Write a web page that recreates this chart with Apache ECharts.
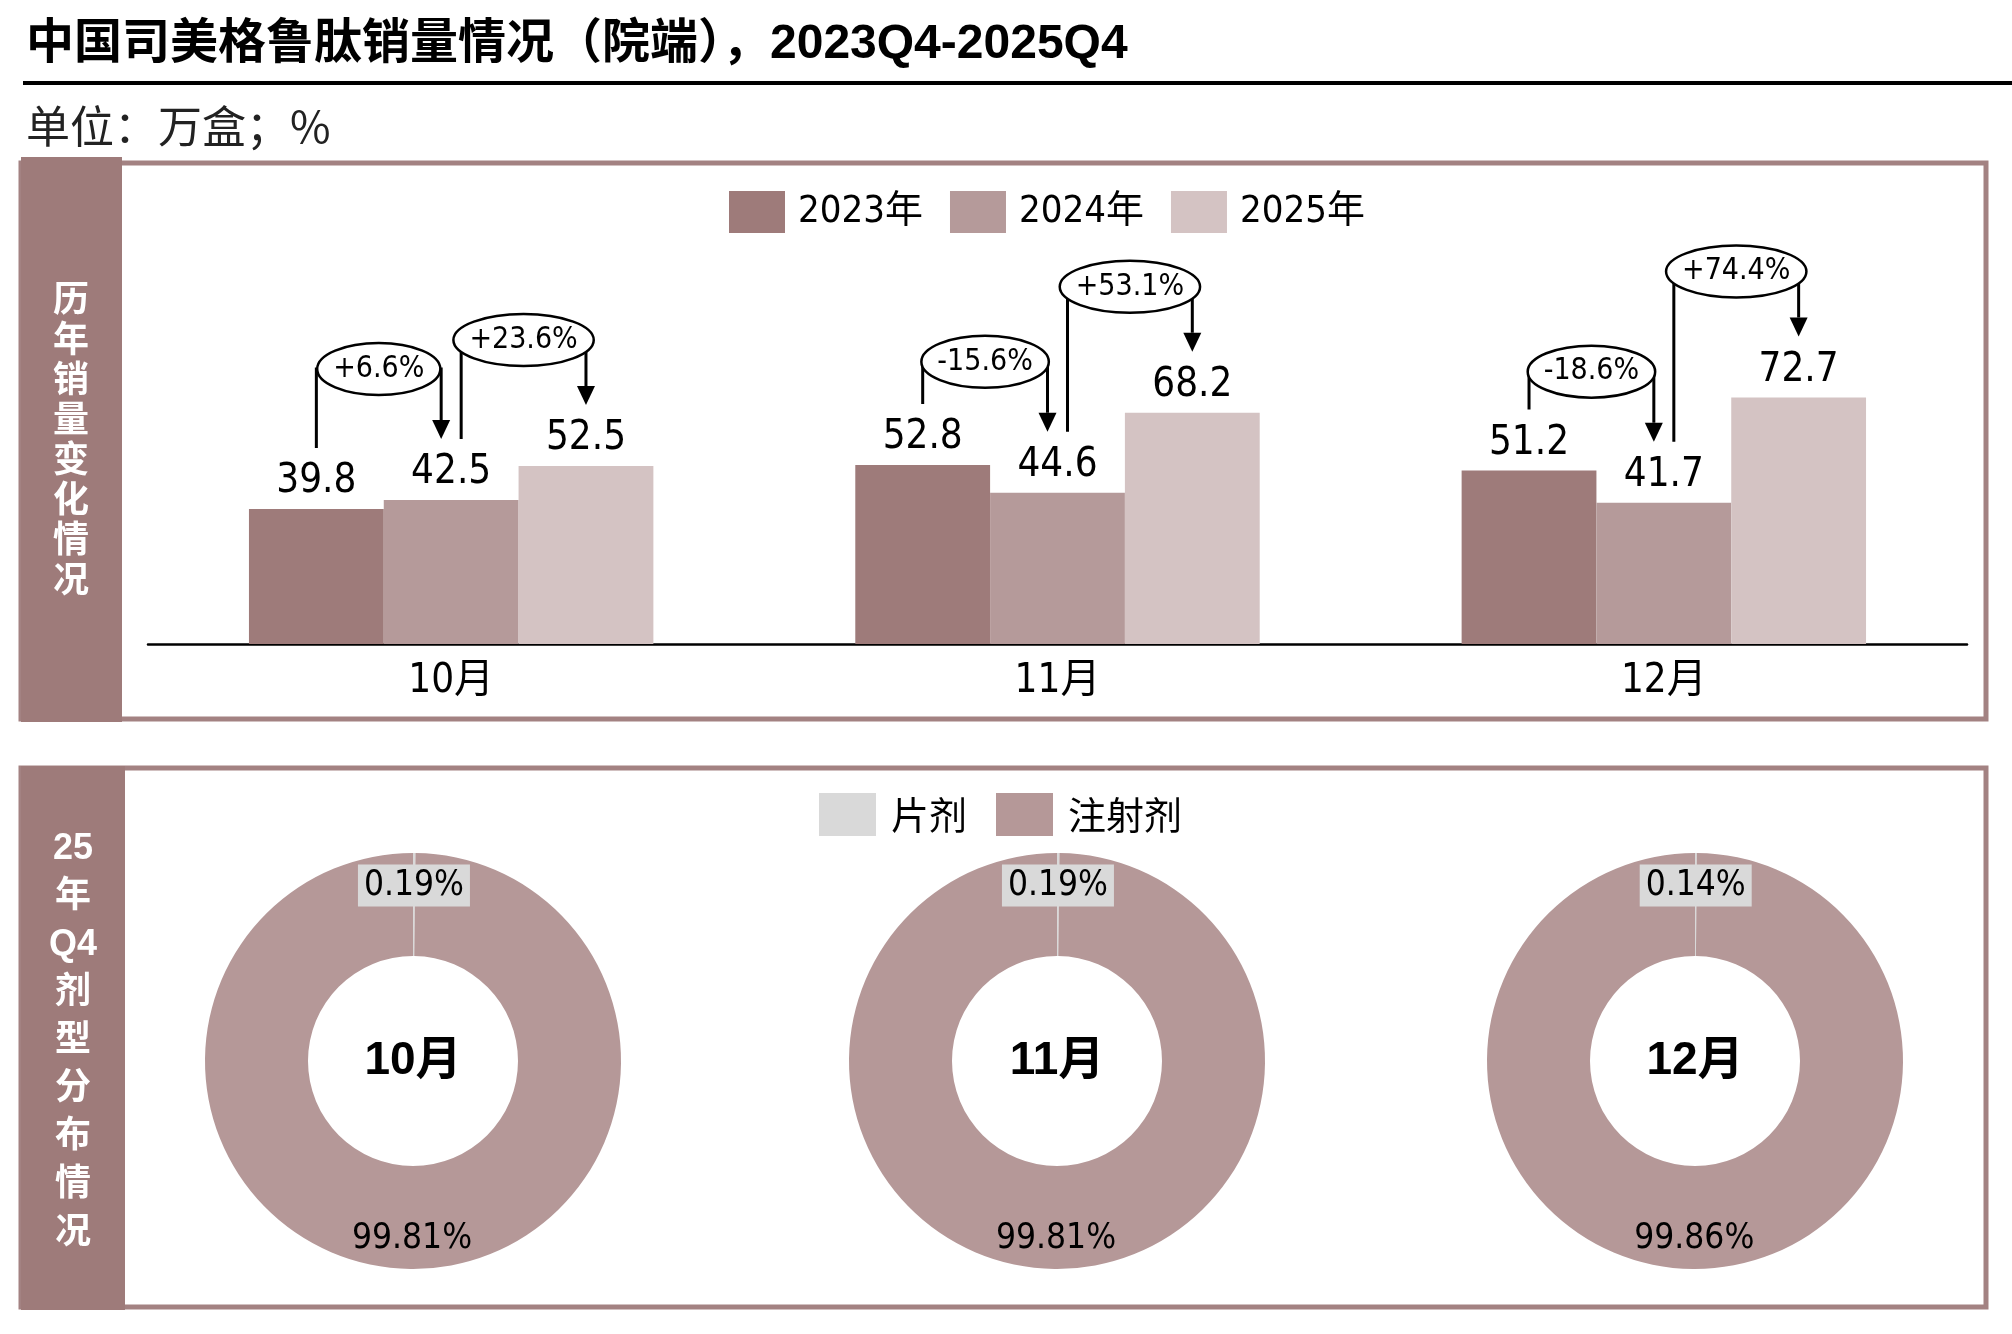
<!DOCTYPE html>
<html>
<head>
<meta charset="utf-8">
<title>中国司美格鲁肽销量情况（院端），2023Q4-2025Q4</title>
<script src="https://cdn.jsdelivr.net/npm/echarts@6/dist/echarts.min.js"></script>
<style>
html, body { margin: 0; padding: 0; background: #fff; }
#main { width: 2012px; height: 1334px; }
</style>
</head>
<body>
<div id="main"></div>
<script>
// 数据
var months = ['10月', '11月', '12月'];
var years = ['2023年', '2024年', '2025年'];
var sales2023 = [39.8, 52.8, 51.2];
var sales2024 = [42.5, 44.6, 41.7];
var sales2025 = [52.5, 68.2, 72.7];
var yoy2024 = ['+6.6%', '-15.6%', '-18.6%'];
var yoy2025 = ['+23.6%', '+53.1%', '+74.4%'];
var forms = ['片剂', '注射剂'];
var tabletShare = [0.19, 0.19, 0.14];
var injectionShare = [99.81, 99.81, 99.86];

var barColors = ['#9e7b7a', '#b59a9a', '#d4c3c3'];
var NARROW = '"Liberation Sans Narrow", "DejaVu Sans Condensed", "Noto Sans CJK SC", sans-serif';
var CJK = '"Noto Sans CJK SC", sans-serif';
var ANN_FONT = '30px ' + NARROW;
var pieCx = [413, 1057, 1695];
var pieCy = 1061;

var measureCtx = document.createElement('canvas').getContext('2d');
function measure(text, font) {
	measureCtx.font = font;
	return measureCtx.measureText(text).width;
}

// 同比括号 + 椭圆标注
function bracket(x1, y1, x2, y2, yTop, text) {
	var head = 19, half = 9;
	var rx = measure(text, ANN_FONT) / 2 + 16;
	var mx = (x1 + x2) / 2;
	return [ {
		type : 'polyline',
		shape : { points : [ [ x1, y1 ], [ x1, yTop ], [ x2, yTop ], [ x2, y2 - head ] ] },
		style : { stroke : '#000', lineWidth : 3, fill : 'none' }
	}, {
		type : 'polygon',
		shape : { points : [ [ x2 - half, y2 - head ], [ x2 + half, y2 - head ], [ x2, y2 ] ] },
		style : { fill : '#000' }
	}, {
		type : 'ellipse',
		shape : { cx : mx, cy : yTop, rx : rx, ry : 26 },
		style : { fill : '#fff', stroke : '#000', lineWidth : 2.5 }
	}, {
		type : 'text',
		x : mx,
		y : yTop,
		style : { text : text, fill : '#000', font : ANN_FONT, align : 'center', verticalAlign : 'middle' }
	} ];
}

function barSeries(name, data, color) {
	return {
		name : name,
		type : 'bar',
		data : data,
		barGap : '0%',
		barCategoryGap : '33.3%',
		itemStyle : { color : color },
		label : {
			show : true,
			position : 'top',
			distance : 7,
			color : '#000',
			fontSize : 40,
			fontFamily : NARROW
		},
		silent : true
	};
}

var series = [ barSeries(years[0], sales2023, barColors[0]),
		barSeries(years[1], sales2024, barColors[1]),
		barSeries(years[2], sales2025, barColors[2]) ];

series.push({
	type : 'custom',
	data : months.map(function(m, i) { return [ i, 0 ]; }),
	encode : { x : 0, y : 1 },
	clip : false,
	silent : true,
	z : 10,
	renderItem : function(params, api) {
		var i = api.value(0);
		var band = api.size([ 1, 0 ])[0];
		var bw = band * (1 - 0.333) / 3;
		var cx = api.coord([ i, 0 ])[0];
		var xs = [ cx - bw, cx, cx + bw ];
		var tops = [ sales2023[i], sales2024[i], sales2025[i] ].map(function(v) {
			return api.coord([ i, v ])[1];
		});
		var t1 = tops[1] - 131;
		var t2 = tops[2] - 126;
		var children = bracket(xs[0], tops[0] - 61, xs[1] - 10, tops[1] - 61, t1, yoy2024[i])
				.concat(bracket(xs[1] + 10, tops[1] - 61, xs[2], tops[2] - 61, t2, yoy2025[i]));
		return { type : 'group', children : children };
	}
});

// 剂型分布环形图
months.forEach(function(m, i) {
	series.push({
		type : 'pie',
		center : [ pieCx[i], pieCy ],
		radius : [ 105, 208 ],
		startAngle : 90,
		clockwise : true,
		silent : true,
		avoidLabelOverlap : false,
		label : {
			show : true,
			position : 'inside',
			fontSize : 35,
			fontFamily : NARROW,
			color : '#000',
			formatter : function(p) { return p.value.toFixed(2) + '%'; }
		},
		labelLine : { show : false },
		data : [ {
			name : forms[0],
			value : tabletShare[i],
			itemStyle : { color : '#d9d9d9' },
			label : { backgroundColor : '#d9d9d9', padding : [ 4, 6, 3, 6 ], offset : [ 0, -16 ] }
		}, {
			name : forms[1],
			value : injectionShare[i],
			itemStyle : { color : '#b59898' },
			label : { offset : [ 0, 18 ] }
		} ]
	});
});

var graphics = [ {
	type : 'text',
	x : 26,
	y : 45,
	style : { text : '中国司美格鲁肽销量情况（院端），2023Q4-2025Q4', font : 'bold 48px "Liberation Sans", ' + CJK, fill : '#000', verticalAlign : 'middle' }
}, {
	type : 'rect',
	shape : { x : 23, y : 81, width : 1989, height : 4 },
	style : { fill : '#000' }
}, {
	type : 'text',
	x : 26,
	y : 126,
	style : { text : '单位：万盒；%', font : '44px ' + CJK, fill : '#222', verticalAlign : 'middle' }
}, {
	type : 'rect',
	shape : { x : 21, y : 163, width : 1965, height : 556 },
	style : { fill : 'none', stroke : '#a38282', lineWidth : 5 }
}, {
	type : 'rect',
	shape : { x : 21, y : 157, width : 101, height : 565 },
	style : { fill : '#9e7b7a' }
}, {
	type : 'text',
	x : 71,
	y : 438,
	style : { text : '历\n年\n销\n量\n变\n化\n情\n况', font : 'bold 36px ' + CJK, lineHeight : 40, fill : '#fff', align : 'center', verticalAlign : 'middle' }
}, {
	type : 'rect',
	shape : { x : 21, y : 768, width : 1965, height : 539 },
	style : { fill : 'none', stroke : '#a38282', lineWidth : 5 }
}, {
	type : 'rect',
	shape : { x : 21, y : 766, width : 104, height : 544 },
	style : { fill : '#9e7b7a' }
}, {
	type : 'text',
	x : 73,
	y : 1041,
	style : { text : '25\n年\nQ4\n剂\n型\n分\n布\n情\n况', font : 'bold 36px "Liberation Sans", ' + CJK, lineHeight : 48, fill : '#fff', align : 'center', verticalAlign : 'middle' }
} ];

months.forEach(function(m, i) {
	graphics.push({
		type : 'text',
		x : pieCx[i],
		y : pieCy,
		z : 100,
		style : { text : m, font : 'bold 46px "Liberation Sans", ' + CJK, fill : '#000', align : 'center', verticalAlign : 'middle' }
	});
});

var myChart = echarts.init(document.getElementById('main'));
myChart.setOption({
	animation : false,
	backgroundColor : '#fff',
	legend : [ {
		data : years,
		left : 724,
		top : 186,
		itemWidth : 56,
		itemHeight : 42,
		itemGap : 27,
		icon : 'rect',
		selectedMode : false,
		textStyle : { fontSize : 38, fontFamily : NARROW, color : '#000', padding : [ 0, 0, 0, 8 ] }
	}, {
		data : forms,
		left : 814,
		top : 788,
		itemWidth : 57,
		itemHeight : 43,
		itemGap : 29,
		icon : 'rect',
		selectedMode : false,
		textStyle : { fontSize : 38, fontFamily : CJK, color : '#000', padding : [ 0, 0, 0, 10 ] }
	} ],
	grid : {
		left : 148,
		right : 45,
		top : 305,
		bottom : 690
	},
	xAxis : {
		type : 'category',
		data : months,
		axisLine : { lineStyle : { color : '#000', width : 2.5 } },
		axisTick : { show : false },
		axisLabel : { fontSize : 40, fontFamily : NARROW, color : '#000', margin : 18 }
	},
	yAxis : {
		type : 'value',
		min : 0,
		max : 100,
		show : false,
		splitLine : { show : false }
	},
	graphic : graphics,
	series : series
});
</script>
</body>
</html>
